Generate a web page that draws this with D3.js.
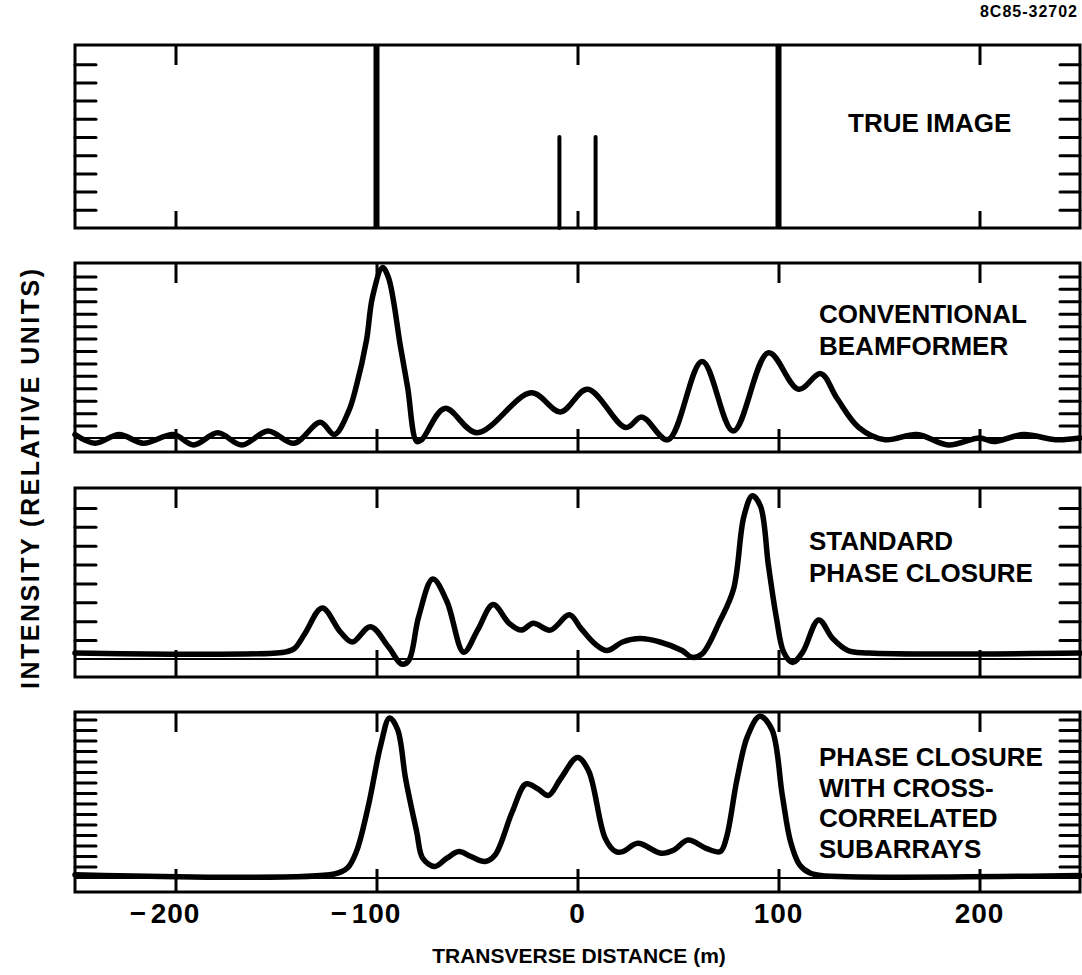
<!DOCTYPE html>
<html>
<head>
<meta charset="utf-8">
<script src="https://cdn.jsdelivr.net/npm/d3@7/dist/d3.min.js"></script>
<style>
  html, body { margin: 0; padding: 0; background: #fff; }
  svg { display: block; }
  text { font-family: "Liberation Sans", Arial, Helvetica, sans-serif; font-weight: bold; fill: #000; }
</style>
</head>
<body>
<svg id="chart" width="1082" height="975"></svg>
<script>
// ---------------- DATA ----------------
const xTickValues = [-200, -100, 0, 100, 200];

const panelTitles = [
  ["TRUE IMAGE"],
  ["CONVENTIONAL", "BEAMFORMER"],
  ["STANDARD", "PHASE CLOSURE"],
  ["PHASE CLOSURE", "WITH CROSS-", "CORRELATED", "SUBARRAYS"]
];

// True image: point targets (distance m, relative intensity)
const trueX = [-100, -9, 9, 100];
const trueY = [1.0, 0.5, 0.5, 1.0];

// Conventional beamformer
const convX = [-250,-240,-228,-216,-201,-191,-179,-167,-154,-141,-128,-121,-114,-110,-105,-102,-97,-94,-88,-84.5,-80,-77.5,-66,-50,-23,-8.5,5,24,32,45,62,77.5,95,110,121,129,140,153,169,184.5,200,207,222,238,250];
const convY = [0.02,-0.03,0.02,-0.03,0.02,-0.04,0.03,-0.04,0.04,-0.03,0.09,0.02,0.15,0.30,0.56,0.81,0.98,0.92,0.52,0.29,-0.02,-0.01,0.17,0.03,0.26,0.15,0.28,0.06,0.12,-0.01,0.44,0.04,0.49,0.28,0.37,0.23,0.06,-0.01,0.02,-0.04,0.0,-0.02,0.02,-0.01,0.0];

// Standard phase closure
const stdX = [-250,-146,-141,-135.6,-127,-118,-112,-103,-94,-87.5,-84,-79,-72,-65,-56.6,-49.7,-42,-34,-28,-22,-13.5,-4,1.7,8.6,14.7,22.4,31,41,52,57,62,70.7,77.6,82.8,87,91,95,99,102.6,107,112,120,127,134.5,145,250];
const stdY = [0.035,0.04,0.06,0.15,0.30,0.16,0.10,0.19,0.07,-0.03,-0.01,0.25,0.47,0.34,0.04,0.17,0.32,0.21,0.17,0.21,0.17,0.26,0.18,0.09,0.05,0.10,0.12,0.10,0.05,0.01,0.03,0.22,0.41,0.84,0.96,0.90,0.55,0.24,0.04,-0.02,0.04,0.23,0.12,0.05,0.035,0.035];

// Phase closure with cross-correlated subarrays
const pcX = [-250,-121,-114.5,-110,-104,-98,-93.5,-89.5,-85.5,-80,-77,-71,-65,-59,-53,-46,-41,-32.5,-25.6,-19.7,-14.5,-8.5,0,5.5,13.8,19,22.5,30,41.5,48,55,64,71,74,79.4,84.6,90.7,96.7,101.9,106,110.5,115.7,121,250];
const pcY = [0.02,0.024,0.06,0.16,0.44,0.80,0.97,0.90,0.60,0.28,0.12,0.07,0.12,0.16,0.13,0.10,0.14,0.40,0.57,0.54,0.50,0.60,0.73,0.65,0.24,0.16,0.16,0.21,0.15,0.17,0.23,0.18,0.16,0.24,0.60,0.86,0.98,0.90,0.50,0.22,0.08,0.03,0.015,0.015];

// ---------------- LAYOUT ----------------
const svg = d3.select("#chart");
const X0 = 75, X1 = 1080;
const x = d3.scaleLinear().domain([-250, 250]).range([X0, X1]);

const panels = [
  { top: 45,  bottom: 228, base: 228, minor: d3.range(1, 10).map(k => k / 10), title: panelTitles[0], tx: 848, ty: 132, lh: 31 },
  { top: 263, bottom: 452, base: 438, minor: d3.range(1, 14).map(k => k / 14), title: panelTitles[1], tx: 819, ty: 323, lh: 32, xs: convX, ys: convY },
  { top: 488, bottom: 677, base: 659, minor: d3.range(1, 9).map(k => k / 9),   title: panelTitles[2], tx: 809, ty: 550, lh: 32, xs: stdX, ys: stdY },
  { top: 712, bottom: 892, base: 878, minor: d3.range(15).map(i => 0.07 + i * 0.0636), title: panelTitles[3], tx: 819, ty: 766, lh: 30.5, xs: pcX, ys: pcY }
];

panels.forEach((p, i) => {
  const y = d3.scaleLinear().domain([0, 1]).range([p.base, p.top + 1]);
  const g = svg.append("g");

  // frame
  g.append("rect")
    .attr("x", X0).attr("y", p.top)
    .attr("width", X1 - X0).attr("height", p.bottom - p.top)
    .attr("fill", "none").attr("stroke", "#000").attr("stroke-width", 3);

  // baseline
  if (p.base !== p.bottom) {
    g.append("line").attr("x1", X0).attr("x2", X1)
      .attr("y1", p.base).attr("y2", p.base)
      .attr("stroke", "#000").attr("stroke-width", 2);
  }

  // x ticks top & bottom
  const topAxis = d3.axisBottom(x).tickValues(xTickValues).tickSize(20).tickFormat("");
  const ga = g.append("g").attr("transform", `translate(0,${p.top})`).call(topAxis);
  ga.select(".domain").remove();
  ga.selectAll(".tick line").attr("stroke", "#000").attr("stroke-width", 3);

  const botLen = (p.bottom - p.base) + (i === 0 ? 17 : 9);
  const botAxis = d3.axisTop(x).tickValues(xTickValues).tickSize(botLen).tickFormat("");
  const gb = g.append("g").attr("transform", `translate(0,${p.bottom})`).call(botAxis);
  gb.select(".domain").remove();
  gb.selectAll(".tick line").attr("stroke", "#000").attr("stroke-width", 3);

  // minor y ticks left & right
  const leftAxis = d3.axisRight(y).tickValues(p.minor).tickSize(21).tickFormat("");
  const gl = g.append("g").attr("transform", `translate(${X0},0)`).call(leftAxis);
  gl.select(".domain").remove();
  gl.selectAll(".tick line").attr("stroke", "#000").attr("stroke-width", 3).attr("stroke-linecap", "round");

  const rightAxis = d3.axisLeft(y).tickValues(p.minor).tickSize(20).tickFormat("");
  const gr = g.append("g").attr("transform", `translate(${X1},0)`).call(rightAxis);
  gr.select(".domain").remove();
  gr.selectAll(".tick line").attr("stroke", "#000").attr("stroke-width", 3).attr("stroke-linecap", "round");

  // data
  if (i === 0) {
    const pts = trueX.map((d, k) => ({ x: d, y: trueY[k] }));
    g.selectAll("line.spike").data(pts).enter().append("line")
      .attr("class", "spike")
      .attr("x1", d => x(d.x)).attr("x2", d => x(d.x))
      .attr("y1", y(0)).attr("y2", d => y(d.y))
      .attr("stroke", "#000")
      .attr("stroke-width", d => d.y >= 1 ? 6 : 4)
      .attr("stroke-linecap", d => d.y >= 1 ? "butt" : "round");
  } else {
    const pts = p.xs.map((d, k) => ({ x: d, y: p.ys[k] }));
    const line = d3.line().x(d => x(d.x)).y(d => y(d.y)).curve(d3.curveCatmullRom.alpha(0.5));
    g.append("path").datum(pts)
      .attr("d", line)
      .attr("fill", "none").attr("stroke", "#000")
      .attr("stroke-width", 5.5).attr("stroke-linejoin", "round").attr("stroke-linecap", "round");
  }

  // title
  const t = g.append("text").attr("x", p.tx).attr("y", p.ty).style("font-size", "26px");
  p.title.forEach((s, k) => {
    t.append("tspan").attr("x", p.tx).attr("y", p.ty + k * p.lh).text(s);
  });
});

// x tick labels: digits centred on the tick, minus sign set to the left
const labG = svg.append("g");
xTickValues.forEach(v => {
  const digits = String(Math.abs(v));
  const dw = digits.length * 15.6 + (digits.length - 1) * 1;
  labG.append("text")
    .attr("x", x(v)).attr("y", 923)
    .attr("text-anchor", "middle")
    .style("font-size", "28px").style("letter-spacing", "1px")
    .text(digits);
  if (v < 0) {
    labG.append("text")
      .attr("x", x(v) - dw / 2 - 5).attr("y", 923)
      .attr("text-anchor", "end")
      .style("font-size", "28px")
      .text("\u2212");
  }
});

// axis titles
svg.append("text")
  .attr("x", 579).attr("y", 963)
  .attr("text-anchor", "middle")
  .style("font-size", "21px")
  .text("TRANSVERSE DISTANCE (m)");

svg.append("text")
  .attr("transform", "translate(39,479) rotate(-90)")
  .attr("text-anchor", "middle")
  .style("font-size", "25px")
  .attr("textLength", 420).attr("lengthAdjust", "spacing")
  .text("INTENSITY (RELATIVE UNITS)");

svg.append("text")
  .attr("x", 1078).attr("y", 17)
  .attr("text-anchor", "end")
  .style("font-size", "16px").style("letter-spacing", "1px")
  .text("8C85-32702");
</script>
</body>
</html>
